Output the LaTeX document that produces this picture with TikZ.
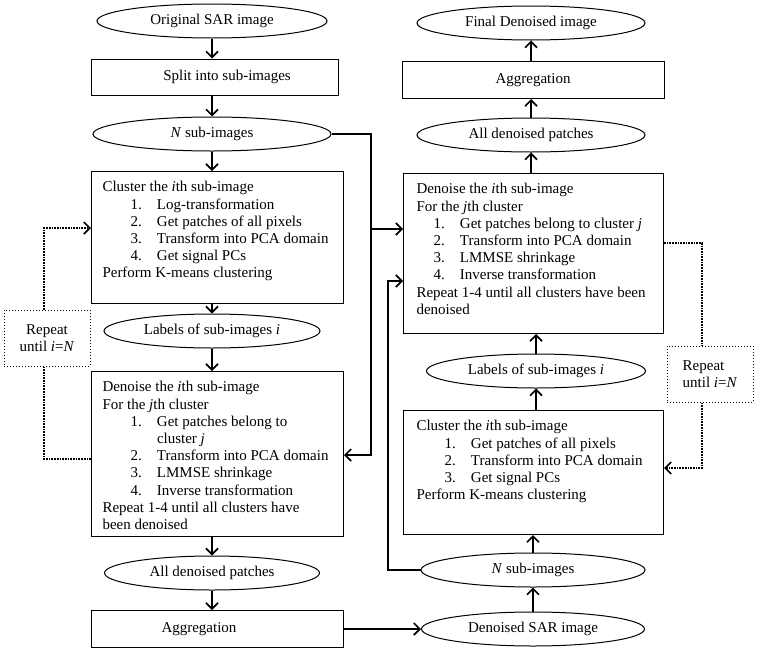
\documentclass[tikz,border=0pt]{standalone}
\usepackage{fontspec}
\setmainfont{Liberation Serif}
\usetikzlibrary{shapes.geometric,arrows.meta}

\newcommand{\boxtxt}[3]{\parbox[c][#2][t]{#1}{\raggedright\vspace*{10pt}#3}}
\newcommand{\itm}[3]{\hspace*{#1}\makebox[26.5pt][l]{#2}#3}

\tikzset{
  termnode/.style={draw, ellipse, line width=1pt, inner sep=0pt, minimum height=34pt},
  flatbox/.style={draw, rectangle, line width=1pt, inner sep=0pt, minimum height=36pt},
  procbox/.style={draw, rectangle, line width=1pt, inner xsep=11pt, inner ysep=0pt, anchor=north west},
  repeatbox/.style={draw, dotted, line width=1pt, inner sep=0pt, minimum width=86pt, minimum height=56pt},
  stepline/.style={line width=1.7pt, ->},
  loopline/.style={line width=1.7pt, densely dotted},
}

\begin{document}
\begin{tikzpicture}[x=1pt,y=-1pt,>={Straight Barb[length=6pt,width=12pt]},font=\fontsize{15}{17.2}\selectfont]
\useasboundingbox (0,0) rectangle (762,656);

\node[termnode, minimum width=230pt] (orig) at (212,21) {Original SAR image};
\node[flatbox, minimum width=247pt] (split) at (215,77) {\hspace*{24pt}Split into sub-images};
\node[termnode, minimum width=238pt] (nsubL) at (212,134) {\textit{N} sub-images};
\node[procbox] (clusterL) at (91,171) {\boxtxt{230pt}{132pt}{Cluster the \textit{i}th sub-image\\
  \itm{28pt}{1.}{Log-transformation}\\
  \itm{28pt}{2.}{Get patches of all pixels}\\
  \itm{28pt}{3.}{Transform into PCA domain}\\
  \itm{28pt}{4.}{Get signal PCs}\\
  Perform K-means clustering}};
\node[termnode, minimum width=216pt] (labelsL) at (212,331) {Labels of sub-images \textit{i}};
\node[procbox] (denoiseL) at (91,371) {\boxtxt{230pt}{165pt}{Denoise the \textit{i}th sub-image\\
  For the \textit{j}th cluster\\
  \itm{28pt}{1.}{Get patches belong to}\\
  \hspace*{54.5pt}cluster \textit{j}\\
  \itm{28pt}{2.}{Transform into PCA domain}\\
  \itm{28pt}{3.}{LMMSE shrinkage}\\
  \itm{28pt}{4.}{Inverse transformation}\\
  Repeat 1-4 until all clusters have\\
  been denoised}};
\node[termnode, minimum width=215pt] (patchesL) at (212,573) {All denoised patches};
\node[flatbox, minimum width=252pt, minimum height=37pt] (aggrL) at (217,629) {Aggregation\hspace*{36pt}};

\node[termnode, minimum width=228pt] (final) at (531,23) {Final Denoised image};
\node[flatbox, minimum width=262pt, minimum height=37pt] (aggrR) at (533,80) {Aggregation};
\node[termnode, minimum width=228pt] (patchesR) at (531,135) {All denoised patches};
\node[procbox, inner xsep=13pt] (denoiseR) at (403,173) {\boxtxt{234pt}{160pt}{Denoise the \textit{i}th sub-image\\
  For the \textit{j}th cluster\\
  \itm{17pt}{1.}{Get patches belong to cluster \textit{j}}\\
  \itm{17pt}{2.}{Transform into PCA domain}\\
  \itm{17pt}{3.}{LMMSE shrinkage}\\
  \itm{17pt}{4.}{Inverse transformation}\\
  Repeat 1-4 until all clusters have been\\
  denoised}};
\node[termnode, minimum width=219pt] (labelsR) at (536,371) {Labels of sub-images \textit{i}};
\node[procbox, inner xsep=13pt] (clusterR) at (403,410) {\boxtxt{234pt}{124pt}{Cluster the \textit{i}th sub-image\\
  \itm{28pt}{1.}{Get patches of all pixels}\\
  \itm{28pt}{2.}{Transform into PCA domain}\\
  \itm{28pt}{3.}{Get signal PCs}\\
  Perform K-means clustering}};
\node[termnode, minimum width=224pt] (nsubR) at (533,570) {\textit{N} sub-images};
\node[termnode, minimum width=223pt] (sarR) at (533,629) {Denoised SAR image};

\node[repeatbox, align=center] (repL) at (47,338) {Repeat\\until \textit{i}=\textit{N}};
\node[repeatbox, align=left] (repR) at (710,374) {Repeat\\until \textit{i}=\textit{N}};

\coordinate (jL) at (371,455);
\coordinate (brL) at (371,229);
\coordinate (jR) at (388,281);
\coordinate (loopLtop) at (44,228);
\coordinate (loopLbot) at (44,459);
\coordinate (loopRtop) at (702,243);
\coordinate (loopRbot) at (702,468);

\draw[stepline] (orig) -- (orig |- split.north);
\draw[stepline] (split.south -| nsubL) -- (nsubL);
\draw[stepline] (nsubL) -- (nsubL |- clusterL.north);
\draw[stepline] (clusterL.south -| labelsL) -- (labelsL);
\draw[stepline] (labelsL) -- (labelsL |- denoiseL.north);
\draw[stepline] (denoiseL.south -| patchesL) -- (patchesL);
\draw[stepline] (patchesL) -- (patchesL |- aggrL.north);

\draw[stepline] (sarR) -- (nsubR);
\draw[stepline] (nsubR) -- (nsubR |- clusterR.south);
\draw[stepline] (clusterR.north -| labelsR) -- (labelsR);
\draw[stepline] (labelsR) -- (labelsR |- denoiseR.south);
\draw[stepline] (denoiseR.north -| patchesR) -- (patchesR);
\draw[stepline] (patchesR) -- (patchesR |- aggrR.south);
\draw[stepline] (aggrR.north -| final) -- (final);

\draw[stepline] (nsubL.east) -| (jL) -- (jL -| denoiseL.east);
\draw[stepline] (brL) -- (brL -| denoiseR.west);
\draw[stepline] (nsubR.west) -| (jR) -- (jR -| denoiseR.west);
\draw[stepline] (aggrL.east) -- (aggrL.east -| sarR.west);

\draw[loopline, ->] (loopLtop |- repL.north) -- (loopLtop) -- (loopLtop -| clusterL.west);
\draw[loopline] (loopLbot |- repL.south) -- (loopLbot) -- (loopLbot -| denoiseL.west);
\draw[loopline] (loopRtop -| denoiseR.east) -- (loopRtop) -- (loopRtop |- repR.north);
\draw[loopline, ->] (loopRbot |- repR.south) -- (loopRbot) -- (loopRbot -| clusterR.east);
\end{tikzpicture}
\end{document}
